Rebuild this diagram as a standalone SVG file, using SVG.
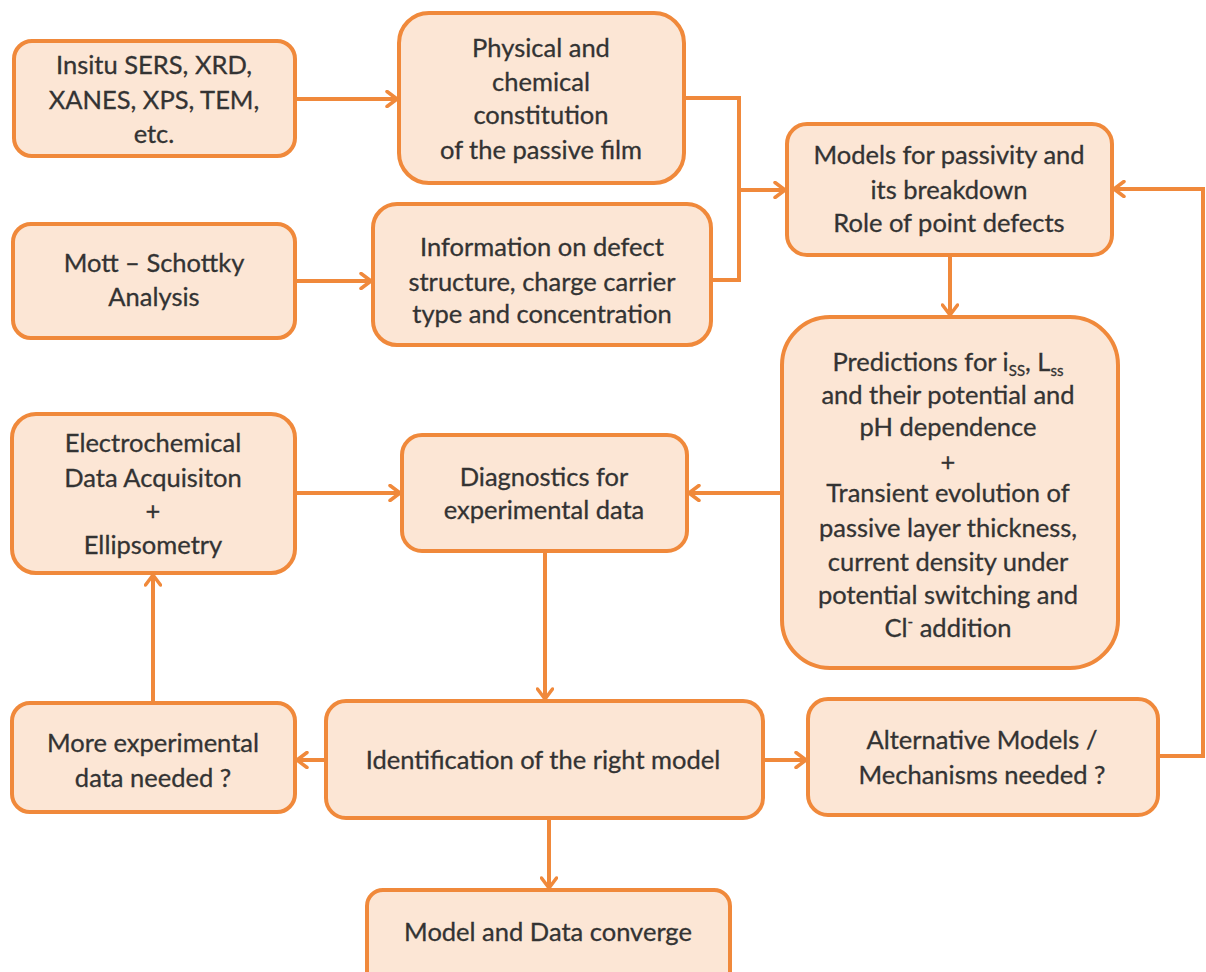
<svg xmlns="http://www.w3.org/2000/svg" width="1206" height="972" viewBox="0 0 1206 972">
  <defs>
    <style>
      .box { fill: #FCE6D5; stroke: #F0893B; stroke-width: 4; }
      .lbl { font-family: Lato, "Open Sans", "Liberation Sans", sans-serif; font-size: 25.5px; fill: #333333; stroke: #333333; stroke-width: 0.3; text-anchor: middle; }
      .sub { font-size: 15px; }
      .conn { fill: none; stroke: #F0893B; stroke-width: 4; }
    </style>
    <marker id="arrow" viewBox="0 0 14 18" refX="12" refY="9" markerWidth="14" markerHeight="18" markerUnits="userSpaceOnUse" orient="auto">
      <path d="M2,1.5 L12,9 L2,16.5" fill="none" stroke="#F0893B" stroke-width="3.5" stroke-linecap="round" stroke-linejoin="round"/>
    </marker>
  </defs>
  <rect width="1206" height="972" fill="#FFFFFF"/>

  <!-- connectors -->
  <g id="connectors" class="conn">
    <path d="M295,99 H397" marker-end="url(#arrow)"/>
    <path d="M295,281 H371" marker-end="url(#arrow)"/>
    <path d="M684,98 H739 V280 H711"/>
    <path d="M739,190 H785" marker-end="url(#arrow)"/>
    <path d="M950,255 V315" marker-end="url(#arrow)"/>
    <path d="M1158,756 H1203 V189 H1114" marker-end="url(#arrow)"/>
    <path d="M782,493 H689" marker-end="url(#arrow)"/>
    <path d="M295,493 H400" marker-end="url(#arrow)"/>
    <path d="M545,551 V699" marker-end="url(#arrow)"/>
    <path d="M326,760 H297" marker-end="url(#arrow)"/>
    <path d="M763,760 H806" marker-end="url(#arrow)"/>
    <path d="M153,703 V575" marker-end="url(#arrow)"/>
    <path d="M549,818 V888" marker-end="url(#arrow)"/>
  </g>

  <g id="insitu">
    <rect class="box" x="14" y="41" width="281" height="115" rx="18"/>
    <text class="lbl" x="154" y="74">Insitu SERS, XRD,</text>
    <text class="lbl" x="154" y="109">XANES, XPS, TEM,</text>
    <text class="lbl" x="154" y="143">etc.</text>
  </g>

  <g id="physical">
    <rect class="box" x="399" y="13" width="285" height="170" rx="30"/>
    <text class="lbl" x="541" y="57">Physical and</text>
    <text class="lbl" x="541" y="91">chemical</text>
    <text class="lbl" x="541" y="124">constitution</text>
    <text class="lbl" x="541" y="159">of the passive film</text>
  </g>

  <g id="mott">
    <rect class="box" x="13" y="224" width="282" height="114" rx="18"/>
    <text class="lbl" x="154" y="272">Mott – Schottky</text>
    <text class="lbl" x="154" y="306">Analysis</text>
  </g>

  <g id="information">
    <rect class="box" x="373" y="204" width="338" height="141" rx="24"/>
    <text class="lbl" x="542" y="256">Information on defect</text>
    <text class="lbl" x="542" y="291">structure, charge carrier</text>
    <text class="lbl" x="542" y="323">type and concentration</text>
  </g>

  <g id="models">
    <rect class="box" x="787" y="124" width="325" height="131" rx="20"/>
    <text class="lbl" x="949" y="164">Models for passivity and</text>
    <text class="lbl" x="949" y="199">its breakdown</text>
    <text class="lbl" x="949" y="232">Role of point defects</text>
  </g>

  <g id="predictions">
    <rect class="box" x="782" y="317" width="336" height="351" rx="48"/>
    <text class="lbl" x="948" y="371">Predictions for i<tspan class="sub" dy="5">SS</tspan><tspan dy="-5">, L</tspan><tspan class="sub" dy="5">ss</tspan></text>
    <text class="lbl" x="948" y="404">and their potential and</text>
    <text class="lbl" x="948" y="436">pH dependence</text>
    <text class="lbl" x="948" y="471">+</text>
    <text class="lbl" x="948" y="502">Transient evolution of</text>
    <text class="lbl" x="948" y="537">passive layer thickness,</text>
    <text class="lbl" x="948" y="571">current density under</text>
    <text class="lbl" x="948" y="604">potential switching and</text>
    <text class="lbl" x="948" y="637">Cl<tspan class="sub" dy="-10">-</tspan><tspan dy="10"> addition</tspan></text>
  </g>

  <g id="electrochemical">
    <rect class="box" x="12" y="414" width="283" height="159" rx="24"/>
    <text class="lbl" x="153" y="452">Electrochemical</text>
    <text class="lbl" x="153" y="487">Data Acquisiton</text>
    <text class="lbl" x="153" y="520">+</text>
    <text class="lbl" x="153" y="554">Ellipsometry</text>
  </g>

  <g id="diagnostics">
    <rect class="box" x="402" y="435" width="285" height="116" rx="20"/>
    <text class="lbl" x="544" y="486">Diagnostics for</text>
    <text class="lbl" x="544" y="519">experimental data</text>
  </g>

  <g id="more-data">
    <rect class="box" x="12" y="703" width="283" height="109" rx="18"/>
    <text class="lbl" x="153" y="752">More experimental</text>
    <text class="lbl" x="153" y="787">data needed ?</text>
  </g>

  <g id="identification">
    <rect class="box" x="326" y="701" width="437" height="117" rx="20"/>
    <text class="lbl" x="543" y="769">Identification of the right model</text>
  </g>

  <g id="alternative">
    <rect class="box" x="808" y="699" width="350" height="116" rx="20"/>
    <text class="lbl" x="982" y="749">Alternative Models /</text>
    <text class="lbl" x="982" y="784">Mechanisms needed ?</text>
  </g>

  <g id="converge">
    <rect class="box" x="367" y="890" width="363" height="110" rx="16"/>
    <text class="lbl" x="548" y="941">Model and Data converge</text>
  </g>
</svg>
